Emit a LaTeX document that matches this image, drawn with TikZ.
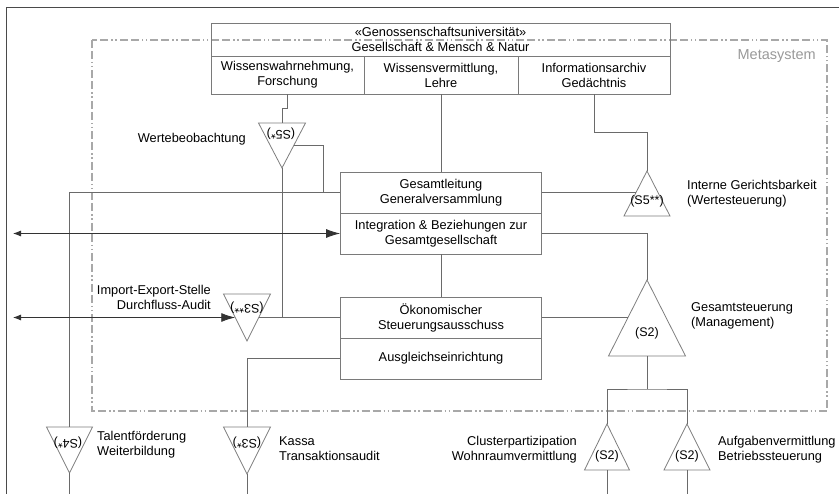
\documentclass[tikz,border=0pt]{standalone}
\usepackage{fontspec}
\setmainfont{Liberation Sans}
\usetikzlibrary{arrows.meta,calc}
\definecolor{ln}{HTML}{6A6A6A}
\definecolor{bx}{HTML}{7A7A7A}
\definecolor{tr}{HTML}{7E7E7E}
\definecolor{fr}{HTML}{4A4A4A}
\definecolor{meta}{HTML}{A8A8A8}
\definecolor{metatxt}{HTML}{999999}
\newcommand\mkdown[5]{% name cx top half height
  \coordinate (#1-l) at ({#2-#4},{#3});
  \coordinate (#1-r) at ({#2+#4},{#3});
  \coordinate (#1-t) at ({#2},{#3});
  \coordinate (#1-a) at ({#2},{#3+#5});
  \draw[tri] (#1-l) -- (#1-r) -- (#1-a) -- cycle;}
\newcommand\mkup[5]{% name cx apexy half height
  \coordinate (#1-a) at ({#2},{#3});
  \coordinate (#1-l) at ({#2-#4},{#3+#5});
  \coordinate (#1-r) at ({#2+#4},{#3+#5});
  \coordinate (#1-b) at ({#2},{#3+#5});
  \draw[tri] (#1-l) -- (#1-r) -- (#1-a) -- cycle;}
\begin{document}
\begin{tikzpicture}[x=1pt,y=-1pt,
  font=\fontsize{12.8}{15}\selectfont,
  box/.style={draw=bx, line width=0.9pt, inner sep=0pt, align=center, minimum width=201pt, minimum height=41pt},
  tri/.style={draw=tr, line width=0.8pt},
  conn/.style={draw=ln, line width=0.8pt},
  arr/.style={draw=black!80, line width=0.8pt, {Latex[length=8pt,width=6pt]}-{Latex[length=14pt,width=9pt]}},
  lbl/.style={inner sep=0pt, align=left, anchor=west},
  tlbl/.style={inner sep=0pt, font=\fontsize{12.5}{15}\selectfont}]
\useasboundingbox (0,0) rectangle (839,494);
% outer frame
\draw[fr, line width=1pt] (6,494) -- (6,8) -- (839,8);
% metasystem
\draw[meta, line width=1.5pt, dash pattern=on 8pt off 3pt on 8pt off 3pt on 1.5pt off 2.5pt on 1.5pt off 3pt] (92,40) rectangle (827,411);
\node[text=metatxt, font=\fontsize{14.5}{17}\selectfont, anchor=east, inner sep=0pt] (metaname) at (816,56) {Metasystem};
% top boxes
\node[box, minimum width=459pt, minimum height=33pt] (title) at (440.5,39.5) {«Genossenschaftsuniversität»\\Gesellschaft \& Mensch \& Natur};
\node[box, minimum width=153pt, minimum height=38pt] (r1) at (287.5,75) {Wissenswahrnehmung,\\Forschung};
\node[box, minimum width=154pt, minimum height=38pt] (r2) at (441,75) {Wissensvermittlung,\\Lehre};
\node[box, minimum width=152pt, minimum height=38pt] (r3) at (594,75) {Informationsarchiv\\Gedächtnis};
% middle boxes
\node[box] (gl) at (441,192.5) {Gesamtleitung\\Generalversammlung};
\node[box] (ig) at (441,233.5) {Integration \& Beziehungen zur\\Gesamtgesellschaft};
\node[box] (ok) at (441,317.5) {Ökonomischer\\Steuerungsausschuss};
\node[box] (ag) at (441,358.5) {Ausgleichseinrichtung};
% triangles
\mkdown{s5}{282}{123}{23.5}{45}
\mkdown{s3x}{247}{294}{23.5}{47}
\mkdown{s4}{69.5}{427}{23}{46}
\mkdown{s3}{247}{427}{23.5}{47}
\mkup{s55}{647}{171}{23}{45}
\mkup{big}{647}{280}{38.5}{76}
\mkup{c1}{607}{424}{22.5}{46}
\mkup{c2}{687}{424}{23}{46}
% triangle texts
\node[tlbl, rotate=180] (t5) at (281,134) {(S5*)};
\node[tlbl, rotate=180] (t3x) at (247,308) {(S3**)};
\node[tlbl, rotate=180] (t4) at (68,443) {(S4*)};
\node[tlbl, rotate=180] (t3) at (247,443) {(S3*)};
\node[tlbl] (t55) at (647,201) {(S5**)};
\node[tlbl] (tbig) at (647,333) {(S2)};
\node[tlbl] (tc1) at (607,456) {(S2)};
\node[tlbl] (tc2) at (687,456) {(S2)};
% labels
\node[inner sep=0pt, anchor=east] (wb) at (246,139) {Wertebeobachtung};
\node[lbl] (ig-l) at (687,193.5) {Interne Gerichtsbarkeit\\(Wertesteuerung)};
\node[inner sep=0pt, align=right, anchor=east] (ie) at (211,297.5) {Import-Export-Stelle\\Durchfluss-Audit};
\node[lbl] (gs) at (691,315.5) {Gesamtsteuerung\\(Management)};
\node[lbl] (tf) at (97,444.5) {Talentförderung\\Weiterbildung};
\node[lbl] (ks) at (279,448.5) {Kassa\\Transaktionsaudit};
\node[inner sep=0pt, align=right, anchor=east] (cp) at (577,449.5) {Clusterpartizipation\\Wohnraumvermittlung};
\node[lbl] (av) at (718,449.5) {Aufgabenvermittlung\\Betriebssteuerung};
% connector coordinates
\coordinate (e1) at (13,233.5);
\coordinate (e2) at (13,317.5);
\coordinate (j2) at (323,192.5);
\coordinate (j3) at (647,389);
\coordinate (b1) at (69.5,494);
\coordinate (b2) at (247,494);
\coordinate (b3) at (607,494);
\coordinate (b4) at (687,494);
\coordinate (s5rp) at ($(s5-r)!0.489!(s5-a)$);
\coordinate (s3xlp) at ($(s3x-l)!0.5!(s3x-a)$);
\coordinate (s3xrp) at ($(s3x-r)!0.5!(s3x-a)$);
\coordinate (s55lp) at ($(s55-a)!0.478!(s55-l)$);
\coordinate (biglp) at ($(big-a)!0.493!(big-l)$);
% connectors
\draw[conn] (r1.south) -- ++(0,14) -| (s5-t);
\draw[conn] (r2.south) -- (gl.north);
\draw[conn] (r3.south) -- ++(0,38) -| (s55-a);
\draw[conn] (ig.south) -- (ok.north);
\draw[conn] (s5-a) -- (s5-a |- ok.west);
\draw[conn] (s5rp) -| (j2);
\draw[conn] (gl.west) -- (s4-t |- gl.west) -- (s4-t);
\draw[conn] (s3xrp |- ok.west) -- (ok.west);
\draw[conn] (ag.west) -| (s3-t);
\draw[conn] (gl.east) -- (s55lp |- gl.east);
\draw[conn] (ig.east) -| (big-a);
\draw[conn] (ok.east) -- (biglp |- ok.east);
\draw[conn] (big-b) -- (j3);
\draw[conn] (c1-a) |- (j3) -| (c2-a);
\draw[conn] (s4-a) -- (b1);
\draw[conn] (s3-a) -- (b2);
\draw[conn] (c1-b) -- (b3);
\draw[conn] (c2-b) -- (b4);
\draw[arr] (e1) -- (ig.west);
\draw[arr] (e2) -- (s3xlp |- e2);
\end{tikzpicture}
\end{document}
